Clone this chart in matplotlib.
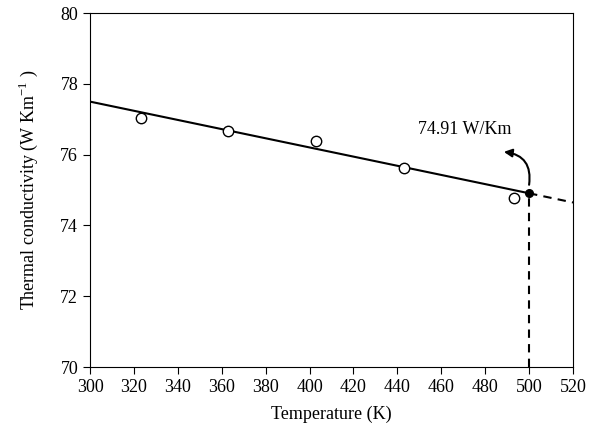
import matplotlib
matplotlib.use("Agg")
import matplotlib.pyplot as plt

plt.rcParams['font.family'] = ['Liberation Serif', 'DejaVu Serif']
plt.rcParams['mathtext.fontset'] = 'custom'
plt.rcParams['mathtext.rm'] = 'Liberation Serif'

# Data
temps = [323, 363, 403, 443, 493]
conductivity = [77.05, 76.68, 76.38, 75.62, 74.78]
fit_x = [300, 500]
fit_y = [77.50, 74.91]
ext_x = [500, 520]
ext_y = [74.91, 74.65]
pred_x = 500
pred_y = 74.91
annot_text = "74.91 W/Km"
xticks = list(range(300, 521, 20))
yticks = [70, 72, 74, 76, 78, 80]

fig = plt.figure(figsize=(6.01, 4.38), dpi=100)
ax = fig.add_axes([0.1498, 0.162, 0.8036, 0.808])

ax.plot(fit_x, fit_y, color='black', lw=1.5, zorder=2)
ax.plot(ext_x, ext_y, color='black', lw=1.5, ls=(0, (4, 3)), zorder=2)
ax.plot([pred_x, pred_x], [70, pred_y], color='black', lw=1.5, ls=(0, (4, 3)), zorder=2)
ax.plot(temps, conductivity, 'o', ms=7.5, mfc='white', mec='black', mew=1.0, zorder=3)
ax.plot([pred_x], [pred_y], 'o', ms=5.5, color='black', zorder=4)

ax.annotate('', xy=(488.5, 76.08), xytext=(500, 75.15),
            arrowprops=dict(arrowstyle='-|>', color='black', lw=1.5,
                            connectionstyle='arc3,rad=0.5',
                            shrinkA=0, shrinkB=0, mutation_scale=12))
ax.text(470.5, 76.7, annot_text, fontsize=13, ha='center', va='center')

ax.set_xlim(300, 520)
ax.set_ylim(70, 80)
ax.set_xticks(xticks)
ax.set_yticks(yticks)
ax.tick_params(direction='out', length=5, width=0.8, labelsize=13, top=False, right=False)
for s in ax.spines.values():
    s.set_linewidth(0.8)

ax.set_xlabel('Temperature (K)', fontsize=13, labelpad=7)
ax.set_ylabel('Thermal conductivity (W Km$^{\\mathregular{-1}}$ )', fontsize=13, labelpad=15)

fig.savefig('out.png', dpi=100)
